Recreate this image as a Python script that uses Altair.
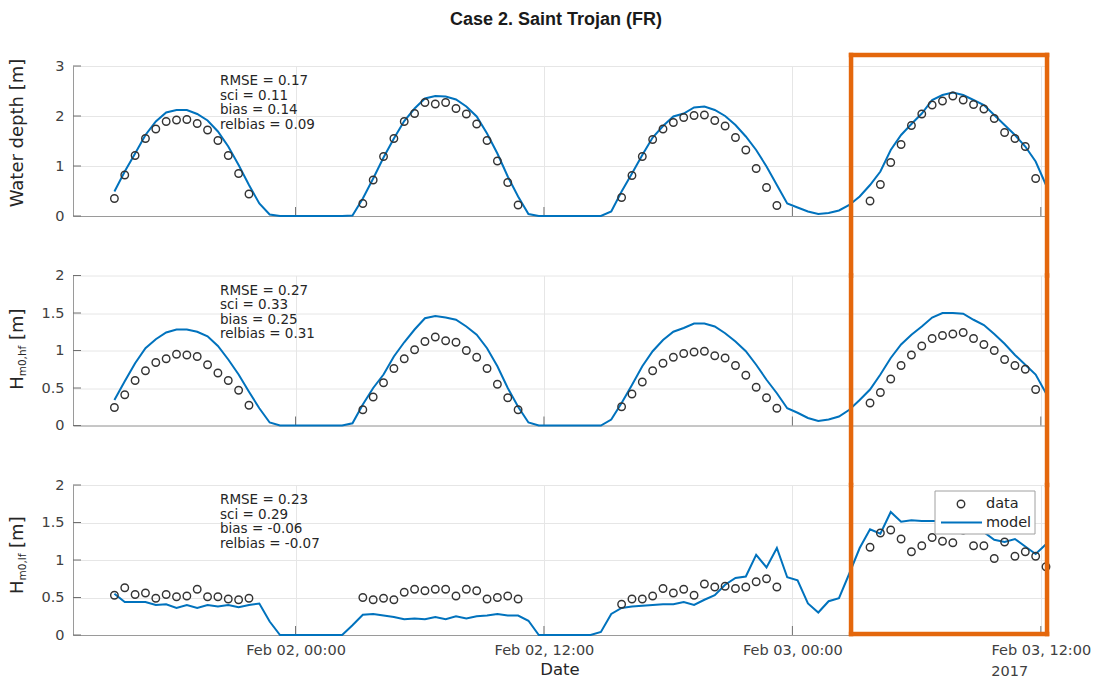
import altair as alt
import pandas as pd

FONT = "DejaVu Sans"
TITLE_FONT = "Liberation Sans"
MODEL_BLUE = "#0072BD"
DATA_GREY = "#333333"
HIGHLIGHT = "#e4670c"
TEXT_DARK = "#262626"
LABEL_GREY = "#404040"
TICK_GREY = "#707070"

PANEL_W = 973
PANEL_H = 150
GAP = 59.5

# ---------------------------------------------------------------- data
# model output, every 30 min from Feb 01 15:15 to Feb 03 12:15
model_time = pd.date_range("2017-02-01 15:15", "2017-02-03 12:15", freq="30min")

depth_model = [
    0.49, 0.89, 1.25, 1.62, 1.89, 2.07, 2.12, 2.12, 2.04, 1.91, 1.69, 1.39,
    1.02, 0.62, 0.25, 0.03, 0.00, 0.00, 0.00, 0.00, 0.00, 0.00, 0.00, 0.01,
    0.35, 0.75, 1.17, 1.55, 1.90, 2.15, 2.35, 2.40, 2.39, 2.33, 2.19, 1.99,
    1.65, 1.25, 0.79, 0.39, 0.04, 0.00, 0.00, 0.00, 0.00, 0.00, 0.00, 0.00,
    0.09, 0.49, 0.85, 1.22, 1.57, 1.80, 1.99, 2.05, 2.17, 2.19, 2.12, 2.00,
    1.82, 1.59, 1.32, 0.99, 0.62, 0.25, 0.17, 0.09, 0.04, 0.06, 0.11, 0.22,
    0.39, 0.62, 0.89, 1.32, 1.62, 1.84, 2.05, 2.32, 2.42, 2.47, 2.42, 2.32,
    2.22, 2.02, 1.82, 1.62, 1.39, 1.09, 0.62,
]
hf_model = [
    0.34, 0.59, 0.83, 1.03, 1.15, 1.24, 1.28, 1.28, 1.25, 1.19, 1.06, 0.88,
    0.68, 0.45, 0.23, 0.04, 0.00, 0.00, 0.00, 0.00, 0.00, 0.00, 0.00, 0.03,
    0.28, 0.50, 0.68, 0.92, 1.11, 1.28, 1.43, 1.46, 1.44, 1.41, 1.32, 1.21,
    1.03, 0.79, 0.50, 0.25, 0.04, 0.00, 0.00, 0.00, 0.00, 0.00, 0.00, 0.00,
    0.08, 0.30, 0.54, 0.79, 0.99, 1.14, 1.25, 1.30, 1.36, 1.36, 1.32, 1.23,
    1.12, 0.99, 0.81, 0.61, 0.43, 0.23, 0.17, 0.10, 0.06, 0.08, 0.12, 0.21,
    0.34, 0.48, 0.68, 0.90, 1.08, 1.21, 1.32, 1.44, 1.50, 1.50, 1.49, 1.41,
    1.34, 1.22, 1.09, 0.94, 0.81, 0.68, 0.43,
]
lf_model = [
    0.55, 0.44, 0.44, 0.44, 0.40, 0.41, 0.36, 0.40, 0.36, 0.40, 0.38, 0.40,
    0.37, 0.40, 0.42, 0.18, 0.00, 0.00, 0.00, 0.00, 0.00, 0.00, 0.00, 0.13,
    0.27, 0.28, 0.26, 0.24, 0.21, 0.22, 0.21, 0.24, 0.21, 0.25, 0.22, 0.25,
    0.26, 0.28, 0.26, 0.26, 0.19, 0.00, 0.00, 0.00, 0.00, 0.00, 0.00, 0.04,
    0.28, 0.36, 0.38, 0.39, 0.40, 0.41, 0.41, 0.44, 0.40, 0.47, 0.53, 0.67,
    0.76, 0.78, 1.07, 0.90, 1.16, 0.77, 0.73, 0.42, 0.30, 0.45, 0.49, 0.82,
    1.16, 1.41, 1.35, 1.64, 1.51, 1.53, 1.52, 1.52, 1.52, 1.48, 1.36, 1.42,
    1.37, 1.27, 1.24, 1.28, 1.18, 1.08, 1.21,
]

# measured bursts (sensor emerged in between), 30-min spacing from each start
burst_starts = ["2017-02-01 15:15", "2017-02-02 03:15",
                "2017-02-02 15:45", "2017-02-03 03:45"]

depth_obs = [
    [0.35, 0.82, 1.21, 1.55, 1.74, 1.89, 1.92, 1.93, 1.85, 1.72, 1.51, 1.21, 0.85, 0.44],
    [0.25, 0.72, 1.19, 1.55, 1.89, 2.05, 2.27, 2.24, 2.27, 2.15, 2.04, 1.84, 1.51, 1.10, 0.67, 0.22],
    [0.37, 0.81, 1.19, 1.53, 1.74, 1.87, 1.97, 2.01, 2.02, 1.91, 1.80, 1.57, 1.32, 0.95, 0.57, 0.21],
    [0.30, 0.63, 1.07, 1.43, 1.81, 2.04, 2.22, 2.30, 2.40, 2.32, 2.23, 2.14, 1.95, 1.67, 1.55, 1.39, 0.75],
]
hf_obs = [
    [0.24, 0.41, 0.60, 0.73, 0.84, 0.89, 0.95, 0.94, 0.92, 0.81, 0.70, 0.60, 0.47, 0.27],
    [0.21, 0.38, 0.57, 0.76, 0.89, 1.01, 1.12, 1.18, 1.13, 1.11, 1.00, 0.91, 0.76, 0.55, 0.37, 0.21],
    [0.25, 0.42, 0.58, 0.73, 0.83, 0.91, 0.96, 0.98, 0.99, 0.93, 0.90, 0.80, 0.67, 0.51, 0.37, 0.23],
    [0.30, 0.44, 0.62, 0.80, 0.94, 1.06, 1.16, 1.20, 1.22, 1.24, 1.16, 1.08, 1.00, 0.88, 0.80, 0.75, 0.48],
]
lf_obs = [
    [0.53, 0.63, 0.54, 0.56, 0.49, 0.54, 0.51, 0.52, 0.61, 0.51, 0.51, 0.48, 0.47, 0.49],
    [0.50, 0.47, 0.49, 0.47, 0.57, 0.61, 0.59, 0.61, 0.61, 0.52, 0.61, 0.59, 0.48, 0.50, 0.52, 0.48],
    [0.41, 0.48, 0.48, 0.52, 0.62, 0.56, 0.61, 0.53, 0.68, 0.64, 0.65, 0.62, 0.64, 0.71, 0.75, 0.64],
    [1.17, 1.36, 1.40, 1.28, 1.11, 1.19, 1.30, 1.25, 1.23, 1.40, 1.19, 1.19, 1.02, 1.24, 1.05, 1.11, 1.05, 0.91],
]

depth_stats = ["RMSE = 0.17", "sci = 0.11", "bias = 0.14", "relbias = 0.09"]
hf_stats = ["RMSE = 0.27", "sci = 0.33", "bias = 0.25", "relbias = 0.31"]
lf_stats = ["RMSE = 0.23", "sci = 0.29", "bias = -0.06", "relbias = -0.07"]

x_ticks = ["2017-02-02 00:00", "2017-02-02 12:00", "2017-02-03 00:00", "2017-02-03 12:00"]
x_range = ["2017-02-01 13:15", "2017-02-03 12:15"]
window = ["2017-02-03 02:50", "2017-02-03 12:18"]   # highlighted period
legend_items = ["data", "model"]
title_text = "Case 2. Saint Trojan (FR)"


def dt(s):
    ts = pd.Timestamp(s)
    return alt.DateTime(year=ts.year, month=ts.month, date=ts.day,
                        hours=ts.hour, minutes=ts.minute)


ONE = pd.DataFrame({"k": [0]})


def text_layer(text, x, y, size, align="left", baseline="middle", angle=0,
               color=TEXT_DARK, font=FONT, weight="normal", line_height=None):
    props = dict(text=text, align=align, baseline=baseline, angle=angle,
                 fontSize=size, font=font, fontWeight=weight, color=color)
    if line_height:
        props["lineHeight"] = line_height
    return alt.Chart(ONE).mark_text(**props).encode(x=alt.value(x), y=alt.value(y))


def panel(model_vals, bursts, y_max, y_ticks, stats, label_layers, bottom=False,
          top=False):
    mdf = pd.DataFrame({"time": model_time, "value": model_vals})
    odf = pd.concat([
        pd.DataFrame({"time": pd.date_range(s, periods=len(v), freq="30min"),
                      "value": v})
        for s, v in zip(burst_starts, bursts)
    ])

    x_axis = alt.Axis(values=[dt(s) for s in x_ticks], format="%b %d, %H:%M",
                      labels=bottom, title="Date" if bottom else None,
                      labelPadding=8, titlePadding=5, labelFlush=False,
                      labelOverlap=False, tickCount=10)
    x = alt.X("time:T", scale=alt.Scale(domain=[dt(s) for s in x_range]), axis=x_axis)
    y = alt.Y("value:Q", scale=alt.Scale(domain=[0, y_max], nice=False, zero=True),
              axis=alt.Axis(values=y_ticks, format="~g", title=None, labelPadding=9,
                            labelOverlap=False, labelFlush=False, tickCount=10))

    line = alt.Chart(mdf).mark_line(color=MODEL_BLUE, strokeWidth=2).encode(x=x, y=y)
    pts = alt.Chart(odf).mark_point(shape="circle", filled=False, color=DATA_GREY,
                                    size=56, strokeWidth=1.4, opacity=1).encode(
        x="time:T", y="value:Q")

    yt = alt.Chart(pd.DataFrame({"value": y_ticks})).mark_rule(
        color=TICK_GREY, strokeWidth=1).encode(
        y="value:Q", x=alt.value(0), x2=alt.value(8))
    xt = alt.Chart(pd.DataFrame({"time": pd.to_datetime(x_ticks)})).mark_rule(
        color=TICK_GREY, strokeWidth=1).encode(
        x="time:T", y=alt.value(PANEL_H), y2=alt.value(PANEL_H - 9))

    stats_txt = text_layer(stats, 147, 8, 13.5, baseline="top", line_height=14.5)

    layers = [yt, xt, line, pts, stats_txt]

    if bottom:
        # legend box
        layers += [
            alt.Chart(ONE).mark_rect(fill="white", stroke="#a0a0a0", strokeWidth=1).encode(
                x=alt.value(862), x2=alt.value(962), y=alt.value(6), y2=alt.value(49)),
            alt.Chart(ONE).mark_point(shape="circle", filled=False, color=DATA_GREY,
                                      size=56, strokeWidth=1.4, opacity=1).encode(
                x=alt.value(888), y=alt.value(19)),
            alt.Chart(ONE).mark_rule(color=MODEL_BLUE, strokeWidth=2).encode(
                x=alt.value(868), x2=alt.value(909), y=alt.value(37.5)),
            text_layer(legend_items[0], 913, 19, 14.5),
            text_layer(legend_items[1], 913, 37.5, 14.5),
            alt.Chart(pd.DataFrame({"time": [pd.Timestamp(x_ticks[-1])]})).mark_text(
                text="2017", dx=-31, fontSize=14.5, font=FONT, color=LABEL_GREY,
                baseline="middle").encode(x="time:T", y=alt.value(PANEL_H + 37)),
        ]

    # highlighted period frame, drawn across the panels
    y_top = -11 if top else 0
    y_bot = PANEL_H - 1 if bottom else PANEL_H + GAP
    frame = dict(color=HIGHLIGHT, strokeWidth=4.5, strokeCap="square")
    layers.append(alt.Chart(pd.DataFrame({"time": pd.to_datetime(window)})).mark_rule(
        **frame).encode(x="time:T", y=alt.value(y_top), y2=alt.value(y_bot)))
    win_df = pd.DataFrame({"time": [pd.Timestamp(window[0])],
                           "time2": [pd.Timestamp(window[1])]})
    if top:
        layers.append(alt.Chart(win_df).mark_rule(**frame).encode(
            x="time:T", x2="time2:T", y=alt.value(y_top)))
        layers.append(text_layer(title_text, 483, -46, 18, align="center",
                                 font=TITLE_FONT, weight="bold", color="#1a1a1a"))
    if bottom:
        layers.append(alt.Chart(win_df).mark_rule(**frame).encode(
            x="time:T", x2="time2:T", y=alt.value(y_bot)))

    layers += label_layers
    return alt.layer(*layers).properties(width=PANEL_W, height=PANEL_H)


# y-axis titles (subscripts built from separate text pieces)
depth_label = [text_layer("Water depth [m]", -50, 67, 18, align="center",
                          baseline="alphabetic", angle=270)]
hf_label = [
    text_layer("H", -50, 114.3, 18, baseline="alphabetic", angle=270),
    text_layer("m0,hf", -47, 100.8, 10.5, baseline="alphabetic", angle=270),
    text_layer("[m]", -50, 64.5, 18, baseline="alphabetic", angle=270),
]
lf_label = [
    text_layer("H", -50, 109, 18, baseline="alphabetic", angle=270),
    text_layer("m0,lf", -47, 95.5, 10.5, baseline="alphabetic", angle=270),
    text_layer("[m]", -50, 62.9, 18, baseline="alphabetic", angle=270),
]

p1 = panel(depth_model, depth_obs, 3, [0, 1, 2, 3], depth_stats, depth_label, top=True)
p2 = panel(hf_model, hf_obs, 2, [0, 0.5, 1, 1.5, 2], hf_stats, hf_label)
p3 = panel(lf_model, lf_obs, 2, [0, 0.5, 1, 1.5, 2], lf_stats, lf_label, bottom=True)

chart = alt.vconcat(p1, p2, p3, spacing=GAP, bounds="flush").properties(
    padding={"left": 8, "top": 11, "right": 2, "bottom": 2},
    background="white",
).configure_view(strokeWidth=0).configure_axis(
    labelFont=FONT, labelFontSize=14.5, labelColor=LABEL_GREY,
    titleFont=FONT, titleFontSize=16.5, titleColor=TEXT_DARK, titleFontWeight="normal",
    ticks=False, domainColor="#9a9a9a", domainWidth=1,
    grid=True, gridColor="#e6e6e6", gridWidth=1,
)

chart.save("out.html", embed_options={"renderer": "svg", "actions": False})
